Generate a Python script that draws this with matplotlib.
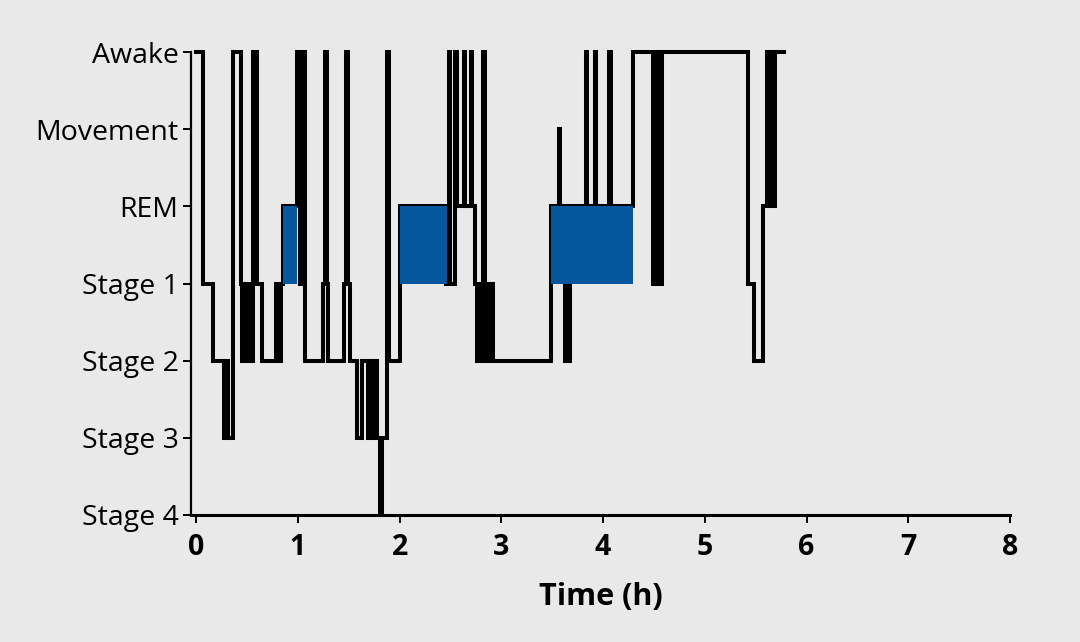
import matplotlib
matplotlib.use("Agg")
import matplotlib.pyplot as plt

# Stage codes: 0=Stage 4 ... 6=Awake
stage_labels = ["Stage 4", "Stage 3", "Stage 2", "Stage 1", "REM", "Movement", "Awake"]
W, M, R, S1, S2, S3, S4 = 6, 5, 4, 3, 2, 1, 0

# change points (hours) and stage entered at each change point
times = [0.00, 0.07, 0.165, 0.27, 0.295, 0.31, 0.365, 0.44, 0.455, 0.475, 0.49, 0.505,
         0.525, 0.56, 0.60, 0.645, 0.79, 0.80, 0.81, 0.82, 0.83, 0.85, 0.996, 1.02,
         1.04, 1.07, 1.25, 1.27, 1.285, 1.30, 1.45, 1.47, 1.49, 1.51, 1.58, 1.63,
         1.69, 1.72, 1.74, 1.76, 1.775, 1.81, 1.825, 1.88, 1.90, 2.00, 2.46, 2.49,
         2.50, 2.54, 2.56, 2.63, 2.645, 2.70, 2.715, 2.745, 2.76, 2.77, 2.78, 2.82,
         2.835, 2.85, 2.87, 2.885, 2.90, 2.92, 3.49, 3.565, 3.575, 3.625, 3.635, 3.67,
         3.68, 3.83, 3.84, 3.925, 3.935, 4.06, 4.075, 4.29, 4.49, 4.505, 4.52, 4.535,
         4.55, 4.575, 5.42, 5.485, 5.57, 5.61, 5.63, 5.645, 5.66, 5.695, 5.78]
stages = [W, S1, S2, S3, S2, S3, W, S1, S2, S1, S2, S1,
          S2, W, S1, S2, S1, S2, S1, S2, S1, R, W, S1,
          W, S2, S1, W, S1, S2, S1, W, S1, S2, S3, S2,
          S3, S2, S3, S2, S3, S4, S3, W, S2, R, S1, W,
          S1, W, R, W, R, W, R, S1, S2, S1, S2, W,
          S1, S2, S1, S2, S1, S2, R, M, R, S2, R, S2,
          R, W, R, W, R, W, R, W, S1, W, S1, W,
          S1, W, S1, S2, R, W, R, W, R, W, W]

# REM periods (shaded)
rem_start = [0.85, 2.00, 3.49]
rem_end = [0.996, 2.465, 4.29]

x_ticks = [0, 1, 2, 3, 4, 5, 6, 7, 8]

bg = "#e9e9e9"
blue = "#07579e"

fig = plt.figure(figsize=(10.8, 6.42), dpi=100, facecolor=bg)
ax = fig.add_axes([191 / 1080, 1 - 515 / 642, (1010 - 191) / 1080, (515 - 52) / 642])
ax.set_facecolor(bg)

ax.plot(times, stages, drawstyle="steps-post", color="black", lw=2.9,
        solid_joinstyle="miter", clip_on=False, zorder=2)
for s, e in zip(rem_start, rem_end):
    ax.fill_between([s, e], S1, R, color=blue, lw=0, zorder=3)

ax.set_xlim(-0.05, 8)
ax.set_ylim(0, 6)
ax.set_yticks(range(7))
ax.set_yticklabels(stage_labels, fontsize=20.5, family="Open Sans")
ax.set_xticks(x_ticks)
ax.set_xticklabels([str(t) for t in x_ticks], fontsize=20.5, fontweight="bold",
                   family="Open Sans")
ax.set_xlabel("Time (h)", fontsize=22, fontweight="bold", family="Open Sans", labelpad=14)

for side in ["top", "right"]:
    ax.spines[side].set_visible(False)
ax.spines["left"].set_linewidth(1.6)
ax.spines["bottom"].set_linewidth(2.2)
ax.tick_params(axis="y", length=6, width=1.4, pad=3)
ax.tick_params(axis="x", length=6, width=1.4, pad=7)

fig.savefig("out.png", dpi=100, facecolor=bg)
